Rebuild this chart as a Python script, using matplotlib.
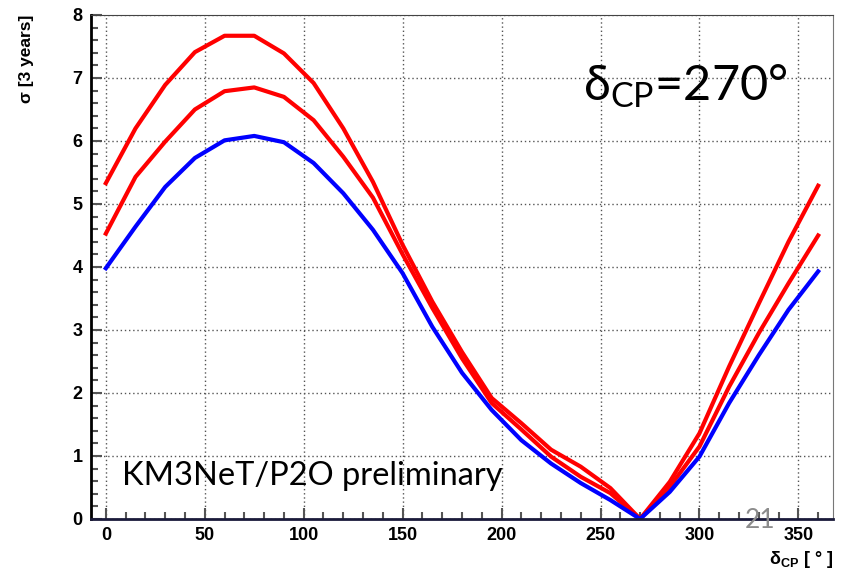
import matplotlib.pyplot as plt
from matplotlib.ticker import MultipleLocator

plt.rcParams['mathtext.fontset'] = 'custom'
plt.rcParams['mathtext.rm'] = 'Lato'
plt.rcParams['mathtext.it'] = 'Lato'
plt.rcParams['mathtext.bf'] = 'Liberation Sans:bold'

# delta_CP scan points (degrees)
deltaCP = [0, 15, 30, 45, 60, 75, 90, 105, 120, 135, 150, 165, 180,
           195, 210, 225, 240, 255, 270, 285, 300, 315, 330, 345, 360]

# sensitivity after 3 years
sigmaHigh = [5.33, 6.20, 6.89, 7.41, 7.67, 7.67, 7.39, 6.92, 6.20, 5.35, 4.35,
             3.45, 2.65, 1.92, 1.52, 1.10, 0.83, 0.49, 0.0, 0.59, 1.36, 2.42,
             3.42, 4.40, 5.29]
sigmaMid = [4.53, 5.43, 5.99, 6.50, 6.79, 6.85, 6.70, 6.33, 5.75, 5.10, 4.20,
            3.35, 2.55, 1.84, 1.42, 0.99, 0.67, 0.41, 0.0, 0.51, 1.15, 2.10,
            2.95, 3.74, 4.50]
sigmaLow = [3.98, 4.64, 5.27, 5.73, 6.01, 6.08, 5.98, 5.65, 5.17, 4.59, 3.90,
            3.05, 2.32, 1.73, 1.25, 0.88, 0.57, 0.30, 0.0, 0.43, 0.99, 1.84,
            2.60, 3.32, 3.93]

xTicks = [0, 50, 100, 150, 200, 250, 300, 350]
yTicks = [0, 1, 2, 3, 4, 5, 6, 7, 8]

fig = plt.figure(figsize=(8.41, 5.76), dpi=100)
ax = fig.add_axes([0.1082, 0.099, 0.8823, 0.875])

ax.plot(deltaCP, sigmaHigh, color='#ff0000', lw=3)
ax.plot(deltaCP, sigmaMid, color='#ff0000', lw=3)
ax.plot(deltaCP, sigmaLow, color='#0000ff', lw=3)

ax.set_xlim(-7.5, 367.5)
ax.set_ylim(0, 8)
ax.set_xticks(xTicks)
ax.set_yticks(yTicks)
ax.xaxis.set_minor_locator(MultipleLocator(10))
ax.yaxis.set_minor_locator(MultipleLocator(0.2))
ax.tick_params(which='both', direction='in', color='#555555', width=1.5,
               labelsize=13, pad=6)
ax.tick_params(which='major', length=8)
ax.tick_params(which='minor', length=5)
for lab in ax.get_xticklabels() + ax.get_yticklabels():
    lab.set_fontweight('bold')
    lab.set_fontfamily('Liberation Sans')

ax.grid(True, which='major', linestyle=(0, (1, 2)), color='#555555', lw=1)

ax.spines['left'].set_linewidth(2)
ax.spines['bottom'].set_linewidth(2)
ax.spines['bottom'].set_color('#1a1a3a')
ax.spines['top'].set_color('#444444')
ax.spines['right'].set_color('#777777')

# axis titles, ROOT style (aligned to axis end)
fig.text(0.032, 0.974, 'σ [3 years]', rotation=90, ha='center', va='top',
         fontsize=12.5, fontweight='bold', family='Liberation Sans')
fig.text(0.991, 0.010, r'$\mathbf{\delta_{CP}}$ [ ° ]', ha='right', va='bottom',
         fontsize=13, fontweight='bold', family='Liberation Sans',
         math_fontfamily='custom')

ax.text(0.663, 0.831, r'$\mathrm{\delta_{CP}}$=270°', transform=ax.transAxes,
        fontsize=35, family=['Lato', 'DejaVu Sans'], ha='left', va='baseline',
        math_fontfamily='custom')
ax.text(0.042, 0.068, 'KM3NeT/P2O preliminary', transform=ax.transAxes,
        fontsize=23.5, family='Lato', ha='left', va='baseline')
fig.text(0.886, 0.083, '21', fontsize=19, family='Lato', color='#8c8c8c')

fig.savefig('out.png', dpi=100)
